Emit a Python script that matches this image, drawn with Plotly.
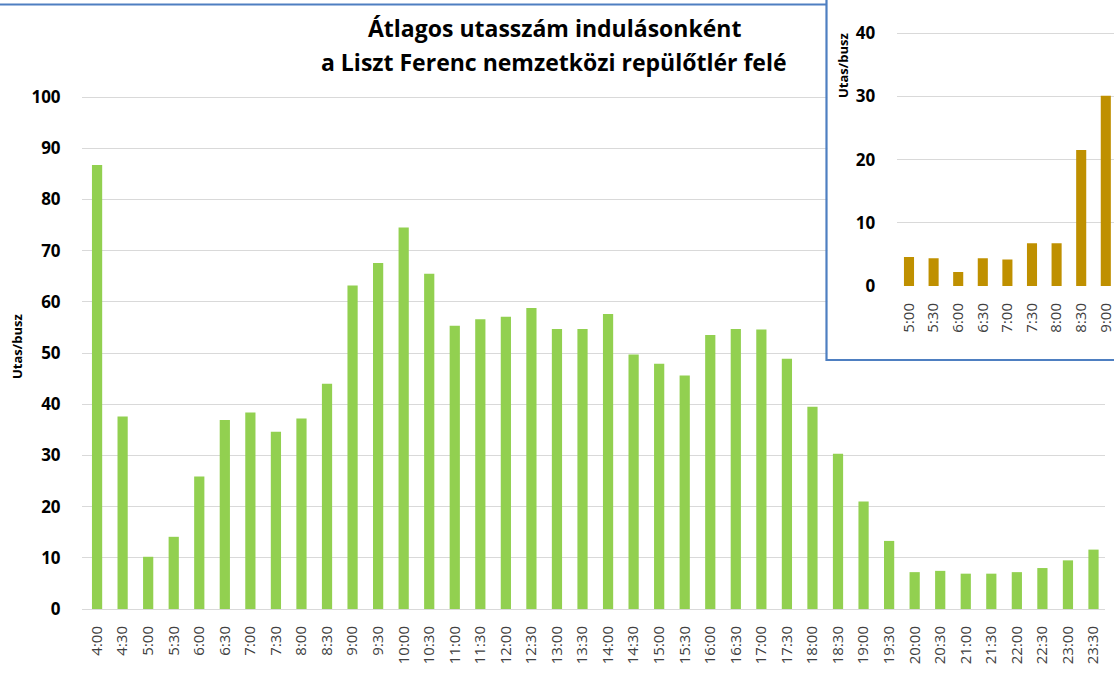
import plotly.graph_objects as go

W, H = 1114, 691

# ---------------- data ----------------
main_times = ["4:00", "4:30", "5:00", "5:30", "6:00", "6:30", "7:00", "7:30",
              "8:00", "8:30", "9:00", "9:30", "10:00", "10:30", "11:00", "11:30",
              "12:00", "12:30", "13:00", "13:30", "14:00", "14:30", "15:00", "15:30",
              "16:00", "16:30", "17:00", "17:30", "18:00", "18:30", "19:00", "19:30",
              "20:00", "20:30", "21:00", "21:30", "22:00", "22:30", "23:00", "23:30"]
main_values = [86.7, 37.6, 10.2, 14.1, 25.9, 36.9, 38.4, 34.6,
               37.2, 44.0, 63.2, 67.6, 74.5, 65.5, 55.3, 56.6,
               57.1, 58.8, 54.7, 54.7, 57.6, 49.7, 47.9, 45.6,
               53.5, 54.7, 54.6, 48.9, 39.5, 30.3, 21.0, 13.3,
               7.2, 7.45, 6.9, 6.9, 7.2, 8.0, 9.5, 11.6]

inset_times = ["5:00", "5:30", "6:00", "6:30", "7:00", "7:30", "8:00", "8:30", "9:00"]
inset_values = [4.6, 4.4, 2.2, 4.4, 4.2, 6.75, 6.75, 21.5, 30.1]

main_yticks = [0, 10, 20, 30, 40, 50, 60, 70, 80, 90, 100]
inset_yticks = [0, 10, 20, 30, 40]

title_line1 = "Átlagos utasszám indulásonként"
title_line2 = "a Liszt Ferenc nemzetközi repülőtlér felé"
y_title = "Utas/busz"

# ---------------- helpers (layout positions in screen pixels) ----------------
def fx(p):
    return p / W

def fy(p):
    return 1 - p / H

FONT = "Open Sans"
GRID = "#D9D9D9"
BLUE = "#4E7FC1"
CLEAR = "rgba(0,0,0,0)"

fig = go.Figure()

fig.add_trace(go.Bar(
    x=main_times, y=main_values, marker=dict(color="#92D050", line=dict(width=0)),
    width=0.40, xaxis="x", yaxis="y", showlegend=False, hoverinfo="x+y"))

fig.add_trace(go.Bar(
    x=inset_times, y=inset_values, marker=dict(color="#BF9000", line=dict(width=0)),
    width=0.41, xaxis="x2", yaxis="y2", showlegend=False, hoverinfo="x+y"))

tick_bold = dict(size=17, color="#000000", family=FONT, weight="bold")
tick_reg = dict(size=15, color="#404040", family=FONT)

# inset plot area: 896.7 px .. 1114 px, 24.6 px per category
inset_left = 896.7
inset_right = 1114
inset_pxcat = 24.6
inset_hi = -0.5 + (inset_right - inset_left) / inset_pxcat

fig.update_layout(
    template="none",
    width=W, height=H,
    margin=dict(l=0, r=0, t=0, b=0, autoexpand=False),
    paper_bgcolor="white", plot_bgcolor="white",
    font=dict(family=FONT, color="#000000"),
    xaxis=dict(
        domain=[fx(82), fx(1105)], range=[-0.59, 39.45], type="category",
        tickangle=-90, tickfont=tick_reg, automargin=False,
        showgrid=False, showline=True, linecolor=GRID, linewidth=1,
        ticks="outside", ticklen=10, tickcolor=CLEAR, anchor="y", fixedrange=True),
    yaxis=dict(
        domain=[fy(609), fy(91.9)], range=[0, 101], automargin=False,
        tickvals=main_yticks, tickfont=tick_bold,
        showgrid=True, gridcolor=GRID, gridwidth=1, zeroline=False, showline=False,
        ticks="outside", ticklen=17, tickcolor=CLEAR, anchor="x", fixedrange=True),
    xaxis2=dict(
        domain=[fx(inset_left), fx(inset_right)], range=[-0.5, inset_hi], type="category",
        tickangle=-90, tickfont=tick_reg, automargin=False,
        showgrid=False, showline=False, ticks="outside", ticklen=10, tickcolor=CLEAR,
        anchor="y2", fixedrange=True),
    yaxis2=dict(
        domain=[fy(286), fy(1.6)], range=[0, 45], automargin=False,
        tickvals=inset_yticks, tickfont=tick_bold,
        showgrid=True, gridcolor=GRID, gridwidth=1, zeroline=False, showline=False,
        ticks="outside", ticklen=17, tickcolor=CLEAR, anchor="x2", fixedrange=True),
    bargap=0.6,
)

# white backdrop of the inset covering the main chart's gridlines
fig.add_shape(type="rect", xref="x", yref="y", layer="between",
              x0=28.58, x1=41, y0=(609 - 360) / 5.12, y1=110,
              fillcolor="white", line=dict(width=0))
# inset frame
fig.add_shape(type="rect", xref="paper", yref="paper", layer="above",
              x0=fx(826.5), x1=fx(1140), y0=fy(360), y1=fy(-20),
              line=dict(color=BLUE, width=2.2), fillcolor=CLEAR)
# top border of the main chart frame
fig.add_shape(type="line", xref="paper", yref="paper", layer="above",
              x0=fx(-5), x1=fx(826.5), y0=fy(4.5), y1=fy(4.5),
              line=dict(color=BLUE, width=2.2))

# titles
fig.add_annotation(text=f"<b>{title_line1}</b>", xref="paper", yref="paper",
                   x=fx(554), y=fy(28), xanchor="center", yanchor="middle",
                   showarrow=False, font=dict(size=23, family=FONT, color="#000000"))
fig.add_annotation(text=f"<b>{title_line2}</b>", xref="paper", yref="paper",
                   x=fx(554), y=fy(62), xanchor="center", yanchor="middle",
                   showarrow=False, font=dict(size=23, family=FONT, color="#000000"))

# axis titles
fig.add_annotation(text=f"<b>{y_title}</b>", xref="paper", yref="paper",
                   x=fx(17), y=fy(347), xanchor="center", yanchor="middle", textangle=-90,
                   showarrow=False, font=dict(size=13, family=FONT, color="#000000"))
fig.add_annotation(text=f"<b>{y_title}</b>", xref="paper", yref="paper",
                   x=fx(843), y=fy(66), xanchor="center", yanchor="middle", textangle=-90,
                   showarrow=False, font=dict(size=13, family=FONT, color="#000000"))

fig.write_html(
    "out.html",
    config={"displayModeBar": False},
    post_script="document.body.style.margin='0';document.body.style.overflow='hidden';",
)
